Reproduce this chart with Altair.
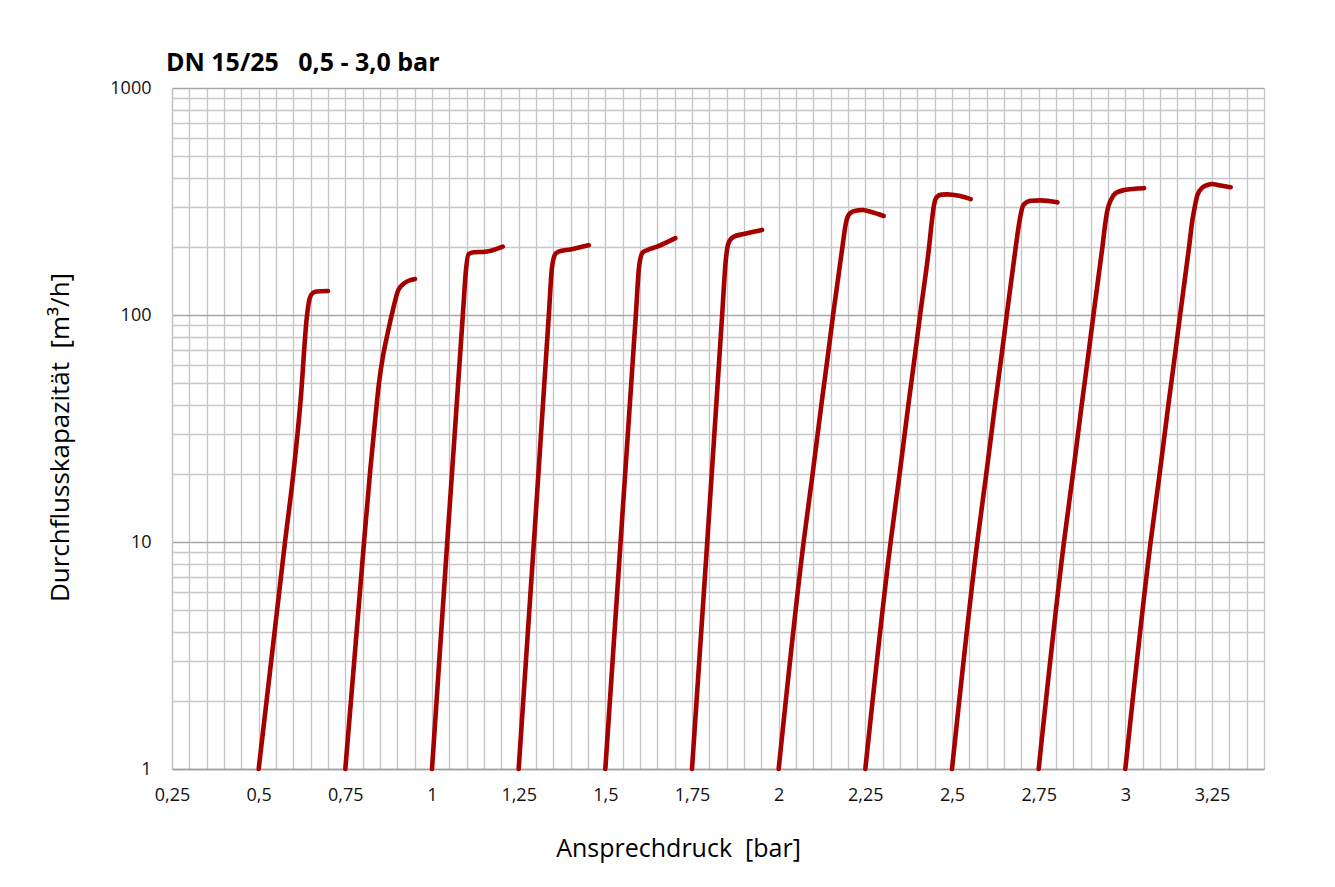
import altair as alt
import pandas as pd

# Ansprechdruck (bar) and Durchflusskapazität (m³/h), one list per curve
x_05 = [0.50, 0.576, 0.600, 0.621, 0.639, 0.647, 0.656, 0.668, 0.700]
y_05 = [1, 10, 20, 42, 98, 118, 125, 127, 127.5]
x_075 = [0.75, 0.804, 0.822, 0.836, 0.847, 0.858, 0.872, 0.887, 0.903, 0.920, 0.951]
y_075 = [1, 10, 20.8, 34.5, 50, 65, 83, 105, 129, 138, 144]
x_10 = [1.00, 1.044, 1.089, 1.098, 1.106, 1.120, 1.154, 1.204]
y_10 = [1, 10, 100, 158, 186, 189, 190, 200]
x_125 = [1.25, 1.294, 1.337, 1.346, 1.356, 1.365, 1.399, 1.452]
y_125 = [1, 10, 100, 161, 186, 190, 194.5, 203]
x_15 = [1.50, 1.544, 1.588, 1.597, 1.607, 1.620, 1.649, 1.702]
y_15 = [1, 10, 100, 161, 188, 193, 200, 218]
x_175 = [1.75, 1.794, 1.837, 1.847, 1.855, 1.870, 1.899, 1.952]
y_175 = [1, 10, 100, 171, 207, 221, 227.5, 237]
x_20 = [2.00, 2.072, 2.098, 2.123, 2.144, 2.157, 2.184, 2.194, 2.205, 2.222, 2.241, 2.265, 2.303]
y_20 = [1, 10, 20, 40, 70, 100, 200, 254, 280, 288, 290, 285, 273]
x_225 = [2.25, 2.323, 2.349, 2.374, 2.395, 2.408, 2.434, 2.442, 2.448, 2.457, 2.470, 2.486, 2.520, 2.554]
y_225 = [1, 10, 20, 40, 70, 100, 200, 260, 305, 332, 339, 340, 335, 324]
x_25 = [2.50, 2.573, 2.599, 2.624, 2.645, 2.658, 2.684, 2.694, 2.699, 2.706, 2.727, 2.756, 2.804]
y_25 = [1, 10, 20, 40, 70, 100, 200, 255, 281, 305, 318.6, 320, 313.6]
x_275 = [2.75, 2.823, 2.849, 2.874, 2.895, 2.908, 2.934, 2.944, 2.949, 2.958, 2.972, 2.996, 3.054]
y_275 = [1, 10, 20, 40, 70, 100, 200, 265, 292, 321, 344, 355, 362]
x_30 = [3.00, 3.073, 3.099, 3.124, 3.145, 3.158, 3.184, 3.194, 3.199, 3.208, 3.223, 3.237, 3.251, 3.266, 3.304]
y_30 = [1, 10, 20, 40, 70, 100, 200, 265, 292, 338, 365, 374, 377.6, 374, 365.5]

series_names = ["0,5", "0,75", "1,0", "1,25", "1,5", "1,75", "2,0", "2,25", "2,5", "2,75", "3,0"]
series_x = [x_05, x_075, x_10, x_125, x_15, x_175, x_20, x_225, x_25, x_275, x_30]
series_y = [y_05, y_075, y_10, y_125, y_15, y_175, y_20, y_225, y_25, y_275, y_30]

# axis tick / grid positions
x_grid_values = [round(0.25 + 0.05 * i, 2) for i in range(64)]
y_grid_values = [m * 10 ** e for e in range(3) for m in range(1, 10)] + [1000]

rows = []
for name, xs, ys in zip(series_names, series_x, series_y):
    for i, (xv, yv) in enumerate(zip(xs, ys)):
        rows.append({"serie": name, "order": i, "druck": xv, "kap": yv})
df = pd.DataFrame(rows)

x_label_expr = ("abs(datum.value*4 - round(datum.value*4)) < 0.001 ? "
                "replace(format(datum.value, '.2~f'), '.', ',') : ''")
y_label_expr = "indexof([1,10,100,1000], datum.value) >= 0 ? format(datum.value, 'd') : ''"

NB = "\u00a0"

chart = alt.Chart(df).mark_line(
    color="#a50000", strokeWidth=4.6, interpolate="monotone", strokeCap="round"
).encode(
    x=alt.X(
        "druck:Q",
        scale=alt.Scale(domain=[0.25, 3.4], nice=False, zero=False),
        axis=alt.Axis(
            title="Ansprechdruck" + NB + NB + "[bar]",
            values=x_grid_values,
            labelExpr=x_label_expr,
            ticks=False,
            labelPadding=17,
            labelFontSize=18,
            grid=True,
            gridColor="#c4c4c4",
            gridWidth=1.3,
            domainColor="#a0a0a0",
            domainWidth=1.3,
            titleFontSize=25,
            titleFontWeight="normal",
            titleX=506,
            titleY=87,
            titleBaseline="alphabetic",
            titleAnchor="start",
            titleAlign="center",
            labelOverlap=False,
            labelFlush=False,
        ),
    ),
    y=alt.Y(
        "kap:Q",
        scale=alt.Scale(type="log", domain=[1, 1000], nice=False),
        axis=alt.Axis(
            title="Durchflusskapazität" + NB + NB + "[m³/h]",
            values=y_grid_values,
            labelExpr=y_label_expr,
            ticks=False,
            labelPadding=21,
            labelFontSize=18,
            grid=True,
            gridColor={
                "condition": {"test": "indexof([1,10,100,1000], datum.value) >= 0", "value": "#a6a6a6"},
                "value": "#c8c8c8",
            },
            gridWidth=1.3,
            domainColor="#c4c4c4",
            domainWidth=1.3,
            titleFontSize=26,
            titleFontWeight="normal",
            titleX=-104,
            titleY=349,
            titleAngle=-90,
            titleBaseline="alphabetic",
            titleAlign="center",
            titleAnchor="start",
            labelOverlap=False,
            labelFlush=False,
        ),
    ),
    detail="serie:N",
    order="order:Q",
).properties(
    width=1092,
    height=681,
    background="white",
    title=alt.TitleParams(
        text="DN 15/25" + NB * 3 + "0,5 - 3,0 bar",
        anchor="start",
        frame="group",
        fontSize=25,
        fontWeight="bold",
        font="Open Sans",
        color="#000000",
        dx=-6,
        dy=31,
        offset=14,
        baseline="alphabetic",
    ),
    autosize=alt.AutoSizeParams(type="none"),
    padding={"left": 164, "top": 80, "right": 55, "bottom": 100},
).configure_axis(
    labelFont="Open Sans",
    titleFont="Open Sans",
    labelColor="#111111",
    titleColor="#000000",
).configure_view(
    stroke=None
)

chart.save("out.html", embed_options={"renderer": "svg", "actions": False})
